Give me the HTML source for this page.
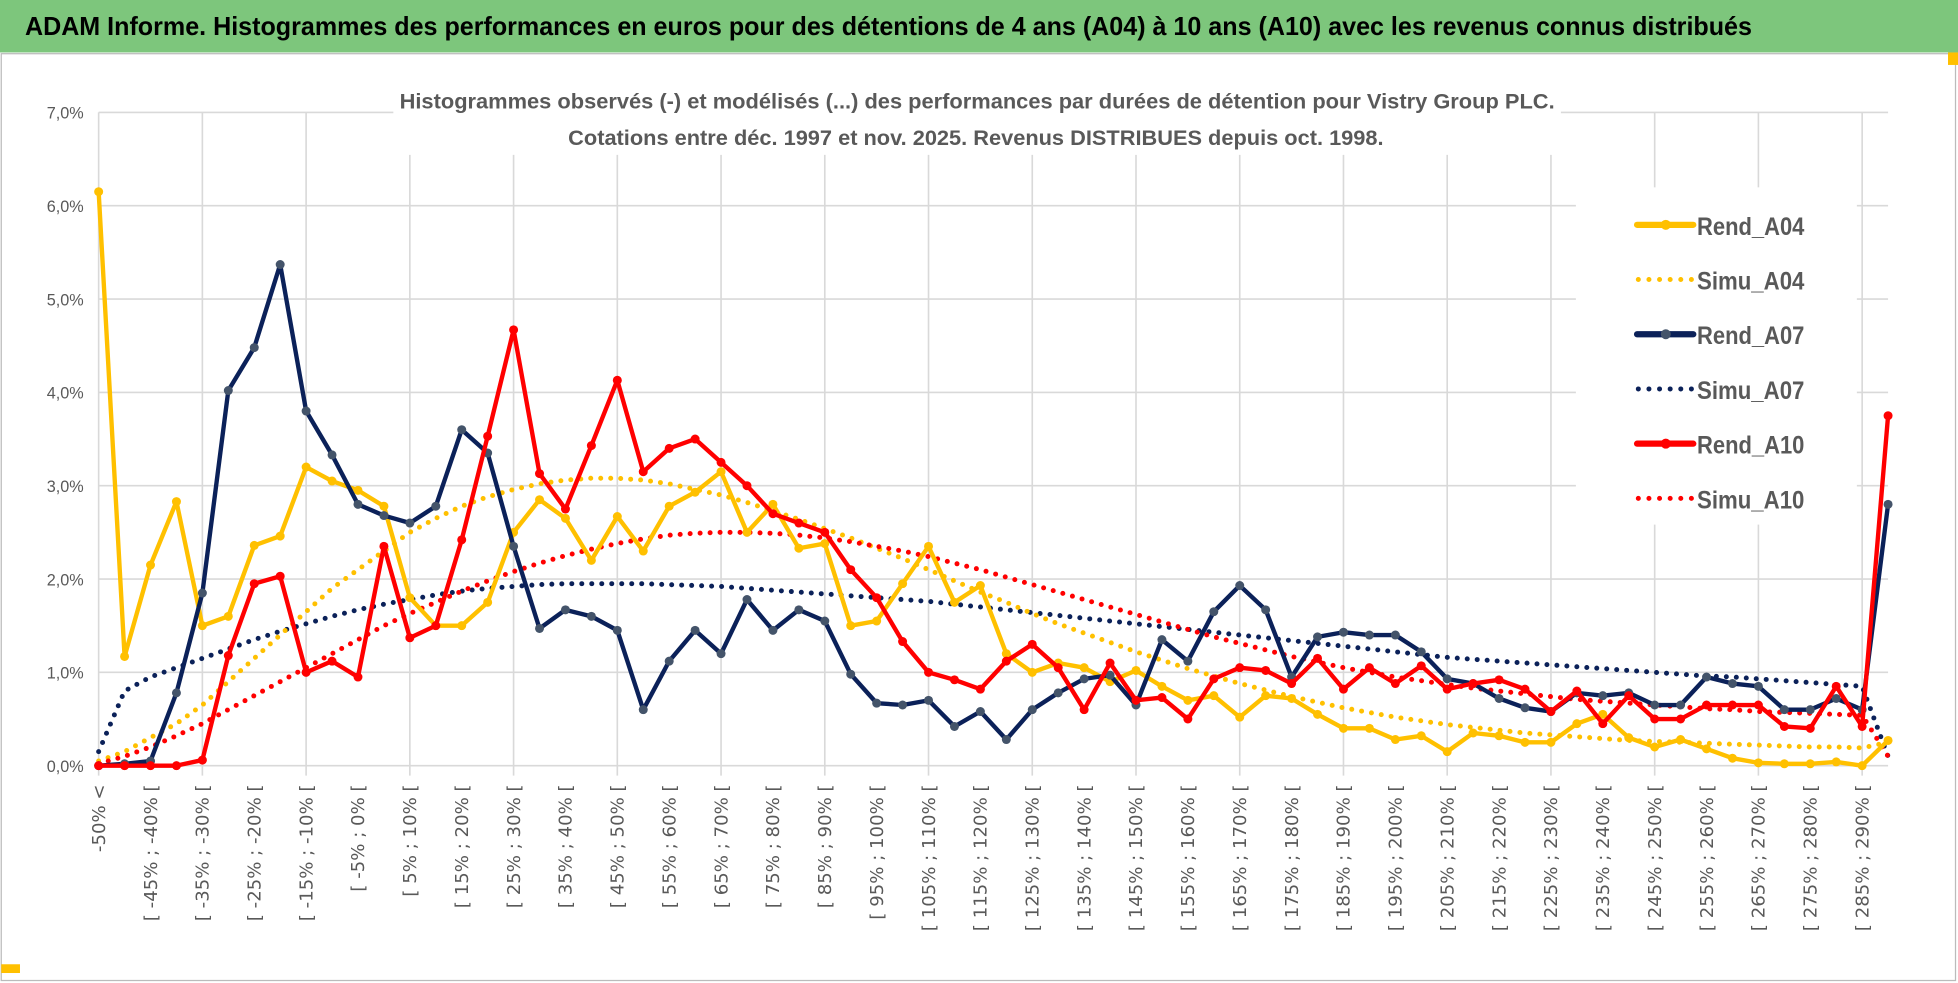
<!DOCTYPE html>
<html><head><meta charset="utf-8"><style>
html,body{margin:0;padding:0;background:#fff;}
svg{display:block;}
text{font-family:"Liberation Sans",sans-serif;}
</style></head><body>
<svg id="chart" width="1958" height="983" viewBox="0 0 1568 787" preserveAspectRatio="none" xmlns="http://www.w3.org/2000/svg">
<rect x="0" y="0" width="1568" height="787" fill="#fff"/>
<rect x="0" y="0" width="1568" height="42" fill="#7dc67c"/>
<text x="20" y="28" font-size="21" font-weight="bold" fill="#000" textLength="1383" lengthAdjust="spacingAndGlyphs">ADAM Informe. Histogrammes des performances en euros pour des détentions de 4 ans (A04) à 10 ans (A10) avec les revenus connus distribués</text>
<rect x="1" y="43" width="1565" height="742" fill="none" stroke="#bbb" stroke-width="1"/>
<rect x="1560" y="42" width="8" height="10" fill="#ffc000"/>
<rect x="1" y="772" width="15" height="7" fill="#ffc000"/>
<g id="grid"></g>
<rect x="315" y="64" width="935" height="60" fill="#fff"/>
<text x="320" y="87" font-size="17" font-weight="bold" fill="#595959" textLength="925" lengthAdjust="spacingAndGlyphs">Histogrammes observés (-)  et modélisés (...) des performances par durées de détention pour Vistry Group PLC.</text>
<text x="455" y="116" font-size="17" font-weight="bold" fill="#595959" textLength="653" lengthAdjust="spacingAndGlyphs">Cotations entre déc. 1997 et nov. 2025.  Revenus DISTRIBUES depuis oct. 1998.</text>
<g id="yaxis"></g>
<g id="xaxis"></g>
<g id="series"></g>
<rect x="1262" y="150" width="225" height="270" fill="#fff"/>
<g id="legend"></g>
</svg>
<script>
const categories = (function(){const c=["-50% <"];for(let a=-50;a<290;a+=5){c.push("[ "+a+"% ; "+(a+5)+"% [");}c.push("> 290%");return c;})();
const yTicks = [0,1,2,3,4,5,6,7];
const yTickLabels = ["0,0%","1,0%","2,0%","3,0%","4,0%","5,0%","6,0%","7,0%"];
const rendA04 = [6.15,1.17,2.15,2.83,1.5,1.6,2.36,2.46,3.2,3.05,2.95,2.78,1.8,1.5,1.5,1.75,2.5,2.85,2.65,2.2,2.67,2.3,2.78,2.93,3.15,2.5,2.8,2.33,2.38,1.5,1.55,1.95,2.35,1.75,1.93,1.2,1.0,1.1,1.05,0.9,1.02,0.85,0.7,0.75,0.52,0.75,0.72,0.55,0.4,0.4,0.28,0.32,0.15,0.35,0.32,0.25,0.25,0.45,0.55,0.3,0.2,0.28,0.18,0.08,0.03,0.02,0.02,0.04,0.0,0.27];
const rendA07 = [0,0.02,0.05,0.78,1.85,4.02,4.48,5.37,3.8,3.33,2.8,2.68,2.6,2.78,3.6,3.35,2.35,1.47,1.67,1.6,1.45,0.6,1.12,1.45,1.2,1.78,1.45,1.67,1.55,0.98,0.67,0.65,0.7,0.42,0.58,0.28,0.6,0.78,0.93,0.97,0.65,1.35,1.12,1.65,1.93,1.67,0.95,1.38,1.43,1.4,1.4,1.22,0.93,0.88,0.72,0.62,0.58,0.78,0.75,0.78,0.65,0.65,0.95,0.88,0.85,0.6,0.6,0.72,0.6,2.8];
const rendA10 = [0,0,0,0,0.06,1.18,1.95,2.03,1.0,1.12,0.95,2.35,1.37,1.5,2.42,3.53,4.67,3.13,2.75,3.43,4.13,3.15,3.4,3.5,3.25,3.0,2.7,2.6,2.5,2.1,1.8,1.33,1.0,0.92,0.82,1.12,1.3,1.05,0.6,1.1,0.7,0.73,0.5,0.93,1.05,1.02,0.88,1.15,0.82,1.05,0.88,1.07,0.82,0.88,0.92,0.82,0.58,0.8,0.45,0.75,0.5,0.5,0.65,0.65,0.65,0.42,0.4,0.85,0.42,3.75];
const simuA04 = [0.05,0.15,0.3,0.45,0.65,0.9,1.15,1.4,1.65,1.9,2.1,2.3,2.5,2.65,2.78,2.88,2.96,3.02,3.06,3.08,3.08,3.06,3.02,2.96,2.9,2.82,2.73,2.64,2.54,2.44,2.33,2.22,2.1,1.98,1.86,1.75,1.63,1.52,1.42,1.32,1.22,1.13,1.04,0.96,0.88,0.81,0.74,0.68,0.62,0.57,0.52,0.48,0.44,0.41,0.38,0.35,0.33,0.31,0.29,0.27,0.26,0.25,0.24,0.23,0.22,0.21,0.2,0.2,0.19,0.25];
const simuA07 = [0.15,0.8,0.95,1.05,1.15,1.25,1.35,1.44,1.52,1.6,1.67,1.73,1.78,1.83,1.87,1.9,1.92,1.94,1.95,1.95,1.95,1.95,1.94,1.93,1.92,1.9,1.88,1.86,1.84,1.82,1.8,1.78,1.76,1.73,1.7,1.67,1.64,1.61,1.58,1.55,1.52,1.49,1.46,1.43,1.4,1.37,1.34,1.31,1.28,1.25,1.22,1.19,1.16,1.14,1.12,1.1,1.08,1.06,1.04,1.02,1.0,0.98,0.96,0.95,0.93,0.91,0.89,0.87,0.85,0.1];
const simuA10 = [0.02,0.1,0.2,0.32,0.45,0.6,0.75,0.9,1.05,1.2,1.35,1.5,1.63,1.75,1.87,1.98,2.08,2.17,2.25,2.32,2.38,2.43,2.47,2.49,2.5,2.5,2.49,2.47,2.44,2.4,2.35,2.3,2.24,2.17,2.1,2.02,1.94,1.86,1.78,1.7,1.62,1.54,1.46,1.38,1.31,1.24,1.17,1.11,1.05,1.0,0.95,0.91,0.87,0.83,0.8,0.77,0.74,0.71,0.69,0.67,0.65,0.63,0.61,0.6,0.58,0.57,0.56,0.55,0.54,0.1];

const NS="http://www.w3.org/2000/svg";
const X0=79,X1=1512,Y0=613,Y7=90;
const n=categories.length;
function xs(i){return X0+(X1-X0)*i/(n-1);}
function ys(v){return Y0-(Y0-Y7)*v/7;}
function mk(tag,attrs,parent){const e=document.createElementNS(NS,tag);for(const k in attrs)e.setAttribute(k,attrs[k]);parent.appendChild(e);return e;}

const grid=document.getElementById('grid');
yTicks.forEach((t,k)=>{
  const l=mk('line',{x1:X0,x2:X1,y1:ys(t),y2:ys(t),stroke:'#d9d9d9','stroke-width':1.3},grid);
  
  
  const tx=mk('text',{x:67,y:ys(t)+5,'font-size':13,fill:'#595959','text-anchor':'end'},document.getElementById('yaxis'));
  tx.textContent=yTickLabels[k];
  
  
});
for(let i=0;i<n;i+=4){
  const l=mk('line',{x1:xs(i),x2:xs(i),y1:Y7,y2:Y0+8,stroke:'#d9d9d9','stroke-width':1.3},grid);
  
  
}
const xa=document.getElementById('xaxis');
for(let i=0;i<n-1;i+=2){
  const x=xs(i)+5, y=628;
  const t=mk('text',{x:x,y:y,'font-size':14.5,fill:'#595959','text-anchor':'end',style:'font-family:"DejaVu Sans",sans-serif',transform:'rotate(-90 '+x+' '+y+')'},xa);
  t.textContent=categories[i].replace(/ /g,'\u00a0');
  
  
}
const ser=document.getElementById('series');
function simu(data,color,name){
  const p=mk('path',{d:data.map((v,i)=>(i?'L':'M')+xs(i)+','+ys(v)).join(''),fill:'none',stroke:color,'stroke-width':4,'stroke-dasharray':'0 8','stroke-linecap':'round'},ser);
  
  
}
function rend(data,color,mcolor,name){
  const g=mk('g',{},ser);
  
  
  mk('path',{d:data.map((v,i)=>(i?'L':'M')+xs(i)+','+ys(v)).join(''),fill:'none',stroke:color,'stroke-width':3.5,'stroke-linejoin':'round'},g);
  data.forEach((v,i)=>{
    const c=mk('circle',{cx:xs(i),cy:ys(v),r:3.6,fill:mcolor},g);
    
    
  });
}
simu(simuA07,'#0b2159','simu-a07-line');
simu(simuA04,'#ffc000','simu-a04-line');
simu(simuA10,'#ff0000','simu-a10-line');
rend(rendA04,'#ffc000','#ffc000','rend-a04-line');
rend(rendA07,'#0b2159','#44546a','rend-a07-line');
rend(rendA10,'#ff0000','#ff0000','rend-a10-line');

const lg=document.getElementById('legend');
const items=[['Rend_A04','#ffc000','#ffc000',0],['Simu_A04','#ffc000',null,1],['Rend_A07','#0b2159','#44546a',0],['Simu_A07','#0b2159',null,1],['Rend_A10','#ff0000','#ff0000',0],['Simu_A10','#ff0000',null,1]];
items.forEach((it,k)=>{
  const y=180+k*43.8;
  const g=mk('g',{},lg);
  
  
  if(it[3]){mk('line',{x1:1312,x2:1356,y1:y,y2:y,stroke:it[1],'stroke-width':4,'stroke-dasharray':'0 8.5','stroke-linecap':'round'},g);}
  else{mk('line',{x1:1311,x2:1356,y1:y,y2:y,stroke:it[1],'stroke-width':5,'stroke-linecap':'round'},g);mk('circle',{cx:1334,cy:y,r:4,fill:it[2]},g);}
  const t=mk('text',{x:1359,y:y+8,'font-size':20,'font-weight':'bold',fill:'#595959',textLength:86,lengthAdjust:'spacingAndGlyphs'},g);
  t.textContent=it[0];
});
</script>
</body></html>
